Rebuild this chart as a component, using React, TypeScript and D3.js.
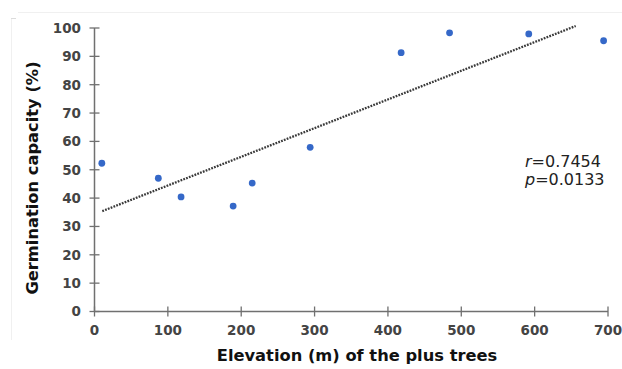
import * as d3 from 'd3';
import { FC } from 'react';

const elevation = [10, 87, 118, 189, 215, 294, 418, 484, 592, 694];
const germination = [52.3, 47, 40.4, 37.2, 45.3, 57.9, 91.3, 98.3, 97.9, 95.5];
const trendX = [10.6, 656];
const trendY = [35.4, 100.7];
const xTicks = [0, 100, 200, 300, 400, 500, 600, 700];
const yTicks = [0, 10, 20, 30, 40, 50, 60, 70, 80, 90, 100];

const App: FC = () => {
  const width = 622;
  const height = 369;
  const x = d3.scaleLinear().domain([0, 700]).range([94.5, 608]);
  const y = d3.scaleLinear().domain([0, 100]).range([311.5, 28]);

  const line = d3
    .line<number>()
    .x((d) => x(d))
    .y((_, i) => y(trendY[i]));

  const tickColor = '#444';
  const axisColor = '#707070';

  return (
    <svg
      width={width}
      height={height}
      style={{ position: 'absolute', left: 0, top: 0, fontFamily: 'DejaVu Sans' }}
    >
      <rect width={width} height={height} fill='#fff' />
      {/* faint frame of the original picture */}
      <line x1={18} x2={622} y1={12.5} y2={12.5} stroke='#f0f0f0' />
      <line x1={11.5} x2={11.5} y1={18} y2={340} stroke='#f0f0f0' />
      <line x1={11} x2={16} y1={18.5} y2={18.5} stroke='#dcdcdc' />

      {/* y axis */}
      <line x1={x(0)} x2={x(0)} y1={y(100)} y2={y(0)} stroke={axisColor} strokeWidth={1.5} />
      {yTicks.map((t) => (
        <g key={t} transform={`translate(0,${y(t)})`}>
          <line x1={x(0) - 5} x2={x(0) + 5} stroke={axisColor} strokeWidth={1.3} />
          <text
            x={81}
            dy='0.36em'
            textAnchor='end'
            fontSize={13.5}
            fontWeight='bold'
            fill={tickColor}
          >
            {t}
          </text>
        </g>
      ))}

      {/* x axis */}
      <line x1={x(0)} x2={x(700)} y1={y(0)} y2={y(0)} stroke={axisColor} strokeWidth={1.5} />
      {xTicks.map((t) => (
        <g key={t} transform={`translate(${x(t)},0)`}>
          <line y1={y(0) - 5} y2={y(0) + 5} stroke={axisColor} strokeWidth={1.3} />
          <text y={335} textAnchor='middle' fontSize={13.5} fontWeight='bold' fill={tickColor}>
            {t}
          </text>
        </g>
      ))}

      {/* trend line */}
      <path
        d={line(trendX) as string}
        fill='none'
        stroke='#3a3a3a'
        strokeWidth={2.3}
        strokeDasharray='1.8,1.2'
      />

      {elevation.map((e, i) => (
        <circle key={i} cx={x(e)} cy={y(germination[i])} r={3.4} fill='#3568c8' />
      ))}

      <text x={525} y={167} fontSize={16} fill='#222'>
        <tspan fontStyle='italic'>r</tspan>=0.7454
      </text>
      <text x={525} y={185} fontSize={16} fill='#222'>
        <tspan fontStyle='italic'>p</tspan>=0.0133
      </text>

      <text x={357} y={361} textAnchor='middle' fontSize={16.3} fontWeight='bold' fill='#111'>
        Elevation (m) of the plus trees
      </text>
      <text
        transform='translate(38,178) rotate(-90)'
        textAnchor='middle'
        fontSize={16.3}
        fontWeight='bold'
        fill='#111'
      >
        Germination capacity (%)
      </text>
    </svg>
  );
};

export default App;
